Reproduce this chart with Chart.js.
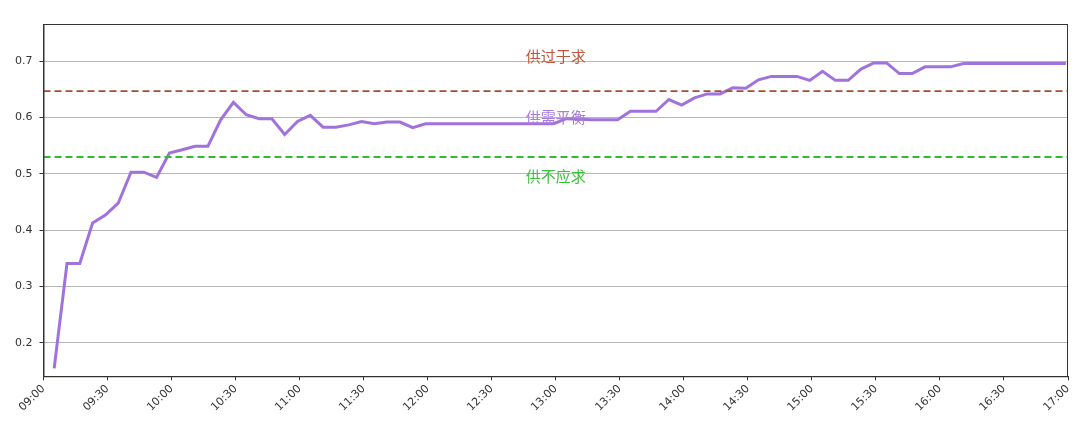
<!DOCTYPE html>
<html>
<head>
<meta charset="utf-8">
<script src="https://cdn.jsdelivr.net/npm/chart.js@4"></script>
<style>
    body { margin: 0; background: #fff; }
    #wrap { width: 1080px; height: 428px; }
</style>
</head>
<body>
<div id="wrap"><canvas id="balanceChart"></canvas></div>
<script>
// minutes after 09:00, one sample every 6 minutes
const sampleMinutes = [];
for (let m = 5; m <= 479; m += 6) sampleMinutes.push(m);

const ratioValues = [
    0.155, 0.341, 0.341, 0.413, 0.427, 0.448, 0.503, 0.503, 0.494, 0.537,
    0.543, 0.549, 0.549, 0.596, 0.627, 0.605, 0.598, 0.598, 0.570, 0.593,
    0.604, 0.583, 0.583, 0.587, 0.593, 0.589, 0.592, 0.592, 0.582, 0.589,
    0.589, 0.589, 0.589, 0.589, 0.589, 0.589, 0.589, 0.589, 0.589, 0.589,
    0.598, 0.597, 0.596, 0.596, 0.596, 0.611, 0.611, 0.611, 0.632, 0.622,
    0.635, 0.642, 0.642, 0.653, 0.652, 0.667, 0.673, 0.673, 0.673, 0.666,
    0.682, 0.666, 0.666, 0.686, 0.697, 0.697, 0.678, 0.678, 0.690, 0.690,
    0.690, 0.696, 0.696, 0.696, 0.696, 0.696, 0.696, 0.696, 0.696, 0.696
];

const timeLabels = ['09:00', '09:30', '10:00', '10:30', '11:00', '11:30', '12:00', '12:30',
    '13:00', '13:30', '14:00', '14:30', '15:00', '15:30', '16:00', '16:30', '17:00'];
const yTicks = [0.2, 0.3, 0.4, 0.5, 0.6, 0.7];

const upperLine = 0.647;   // 供过于求 threshold
const lowerLine = 0.530;   // 供不应求 threshold

const zoneLabels = ['供过于求', '供需平衡', '供不应求'];
const zoneLabelY = [0.708, 0.600, 0.495];
const zoneLabelX = 240;    // 13:00
const zoneColors = ['#c0553d', '#a77ddd', '#3cc03c'];

const lineData = sampleMinutes.map((m, i) => ({ x: m, y: ratioValues[i] }));

const framePlugin = {
    id: 'frame',
    afterDraw(chart) {
        const a = chart.chartArea, ctx = chart.ctx;
        ctx.save();
        ctx.strokeStyle = '#333';
        ctx.lineWidth = 1;
        ctx.strokeRect(a.left + 0.5, a.top + 0.5, a.right - a.left - 1, a.bottom - a.top);
        ctx.restore();
    }
};

const zoneTextPlugin = {
    id: 'zoneText',
    afterDatasetsDraw(chart) {
        const ctx = chart.ctx;
        const xs = chart.scales.x, ys = chart.scales.y;
        ctx.save();
        ctx.font = '15px "Noto Sans CJK SC"';
        ctx.textAlign = 'center';
        ctx.textBaseline = 'middle';
        zoneLabels.forEach((t, i) => {
            ctx.fillStyle = zoneColors[i];
            ctx.fillText(t, xs.getPixelForValue(zoneLabelX), ys.getPixelForValue(zoneLabelY[i]));
        });
        ctx.restore();
    }
};

new Chart(document.getElementById('balanceChart').getContext('2d'), {
    type: 'line',
    data: {
        datasets: [{
            label: '供过于求',
            data: [{ x: 0, y: upperLine }, { x: 480, y: upperLine }],
            borderColor: '#ad4a30',
            borderWidth: 1.8,
            borderDash: [7, 4],
            pointRadius: 0
        }, {
            label: '供不应求',
            data: [{ x: 0, y: lowerLine }, { x: 480, y: lowerLine }],
            borderColor: '#30bb30',
            borderWidth: 1.8,
            borderDash: [7, 4],
            pointRadius: 0
        }, {
            label: '供需比',
            data: lineData,
            borderColor: '#a072dc',
            borderWidth: 3,
            pointRadius: 0,
            tension: 0
        }]
    },
    options: {
        responsive: true,
        maintainAspectRatio: false,
        animation: false,
        layout: { padding: { top: 24, right: 12, left: 8, bottom: 12 } },
        plugins: {
            legend: { display: false },
            tooltip: { enabled: false }
        },
        scales: {
            x: {
                type: 'linear',
                min: 0,
                max: 480,
                afterBuildTicks: axis => {
                    axis.ticks = timeLabels.map((t, i) => ({ value: i * 30 }));
                },
                ticks: {
                    autoSkip: false,
                    minRotation: 45,
                    maxRotation: 45,
                    color: '#333',
                    font: { family: 'DejaVu Sans', size: 11 },
                    padding: 2,
                    callback: (v) => timeLabels[Math.round(v / 30)]
                },
                grid: { drawOnChartArea: false, tickLength: 4, color: '#333' },
                border: { color: '#333' }
            },
            y: {
                min: 0.141,
                max: 0.766,
                afterBuildTicks: axis => {
                    axis.ticks = yTicks.map(v => ({ value: v }));
                },
                ticks: {
                    color: '#333',
                    font: { family: 'DejaVu Sans', size: 11 },
                    padding: 7,
                    callback: v => v.toFixed(1)
                },
                grid: { color: '#b8b8b8', tickColor: '#333', tickLength: 4 },
                border: { color: '#333' }
            }
        }
    },
    plugins: [framePlugin, zoneTextPlugin]
});
</script>
</body>
</html>
